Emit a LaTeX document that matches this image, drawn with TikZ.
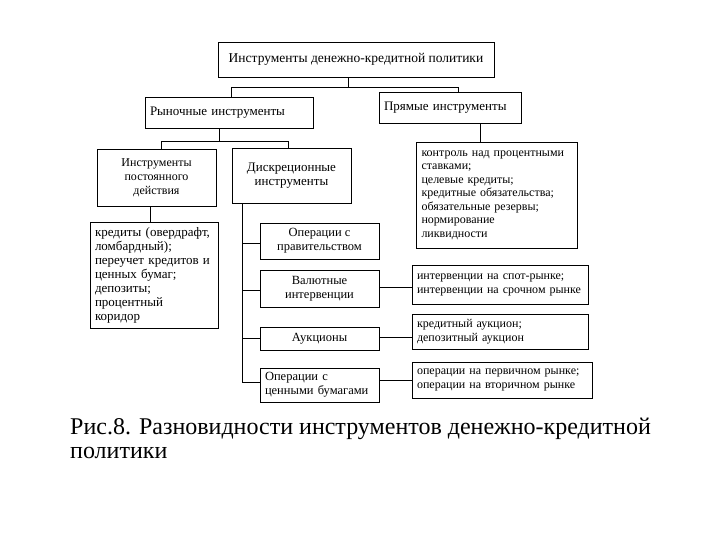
\documentclass[tikz,border=0pt]{standalone}
\usepackage{fontspec}
\setmainfont{Liberation Serif}
\begin{document}
\begin{tikzpicture}[x=1pt,y=-1pt,
  box/.style={draw=black,line width=0.9pt,inner sep=4pt,font=\fontsize{12.5}{14}\selectfont},
  cbox/.style={box,align=center},
  fs/.style={font=\fontsize{#1}{14}\selectfont},
  conn/.style={draw=black,line width=0.9pt}]
\useasboundingbox (0,0) rectangle (720,540);
\fill[white] (0,0) rectangle (720,540);
% top level
\node[cbox,fs=13.5,minimum width=276,minimum height=35] (top) at (356,59.5) {Инструменты денежно-кредитной политики};
\node[box,fs=13,minimum width=168,minimum height=31,text width=158,align=left] (ryn) at (229,112.5) {Рыночные инструменты};
\node[box,fs=13,minimum width=142,minimum height=31,text width=132,align=left] (pryam) at (450,107.5) {Прямые инструменты};
% second level
\node[cbox,fs=12,minimum width=119,minimum height=57] (post) at (156.5,177.5) {Инструменты\\постоянного\\действия};
\node[cbox,fs=13,minimum width=119,minimum height=55] (disk) at (291.5,175.5) {Дискреционные\\инструменты};
\node[box,font=\fontsize{12}{13.5}\selectfont,minimum width=161,minimum height=106,text width=150,align=left] (pdet) at (496.5,195) {контроль над процентными\\ставками;\\целевые кредиты;\\кредитные обязательства;\\обязательные резервы;\\нормирование\\ликвидности};
\node[box,fs=13,minimum width=128,minimum height=106,text width=118,align=left] (cred) at (154,275) {кредиты (овердрафт,\\ломбардный);\\переучет кредитов и\\ценных бумаг;\\депозиты;\\процентный\\коридор};
% discretionary children
\node[cbox,fs=12.5,minimum width=119,minimum height=36] (oprav) at (319.5,241) {Операции с\\правительством};
\node[cbox,fs=12.5,minimum width=119,minimum height=37] (val) at (319.5,288.5) {Валютные\\интервенции};
\node[cbox,fs=12.5,minimum width=119,minimum height=23] (auk) at (319.5,338.5) {Аукционы};
\node[box,fs=12.5,minimum width=119,minimum height=34,text width=109,align=left] (ocb) at (319.5,385) {Операции с\\ценными бумагами};
% details
\node[box,fs=12,minimum width=176,minimum height=39,text width=166,align=left] (vdet) at (500,284.5) {интервенции на спот-рынке;\\интервенции на срочном рынке};
\node[box,fs=12,minimum width=176,minimum height=35,text width=166,align=left] (adet) at (500,331.5) {кредитный аукцион;\\депозитный аукцион};
\node[box,fs=12,minimum width=180,minimum height=36,text width=170,align=left] (odet) at (502,380) {операции на первичном рынке;\\операции на вторичном рынке};
% junction coordinates
\coordinate (j1) at (348,87);
\coordinate (b1) at (231,87);
\coordinate (b2) at (458,87);
\coordinate (j2) at (219,141);
\coordinate (c1) at (161,141);
\coordinate (c2) at (288,141);
\coordinate (pj) at (480,0);
\coordinate (cj) at (150,0);
\coordinate (dv) at (242,382);
% connectors
\draw[conn] (top.south -| j1) -- (j1);
\draw[conn] (ryn.north -| b1) -- (b1) -- (b2) -- (pryam.north -| b2);
\draw[conn] (ryn.south -| j2) -- (j2);
\draw[conn] (post.north -| c1) -- (c1) -- (c2) -- (disk.north -| c2);
\draw[conn] (pryam.south -| pj) -- (pdet.north -| pj);
\draw[conn] (post.south -| cj) -- (cred.north -| cj);
\draw[conn] (disk.south -| dv) -- (dv) -- (ocb.west |- dv);
\draw[conn] (oprav.west |- 0,243) -- (242,243);
\draw[conn] (val.west |- 0,290) -- (242,290);
\draw[conn] (auk.west |- 0,338) -- (242,338);
\draw[conn] (val.east |- 0,287) -- (vdet.west |- 0,287);
\draw[conn] (auk.east |- 0,337) -- (adet.west |- 0,337);
\draw[conn] (ocb.east |- 0,380) -- (odet.west |- 0,380);
% caption
\node[anchor=north west,align=left,inner sep=0pt,font=\fontsize{24}{24}\selectfont] (cap) at (70,418) {Рис.8. Разновидности инструментов денежно-кредитной\\политики};
\end{tikzpicture}
\end{document}
